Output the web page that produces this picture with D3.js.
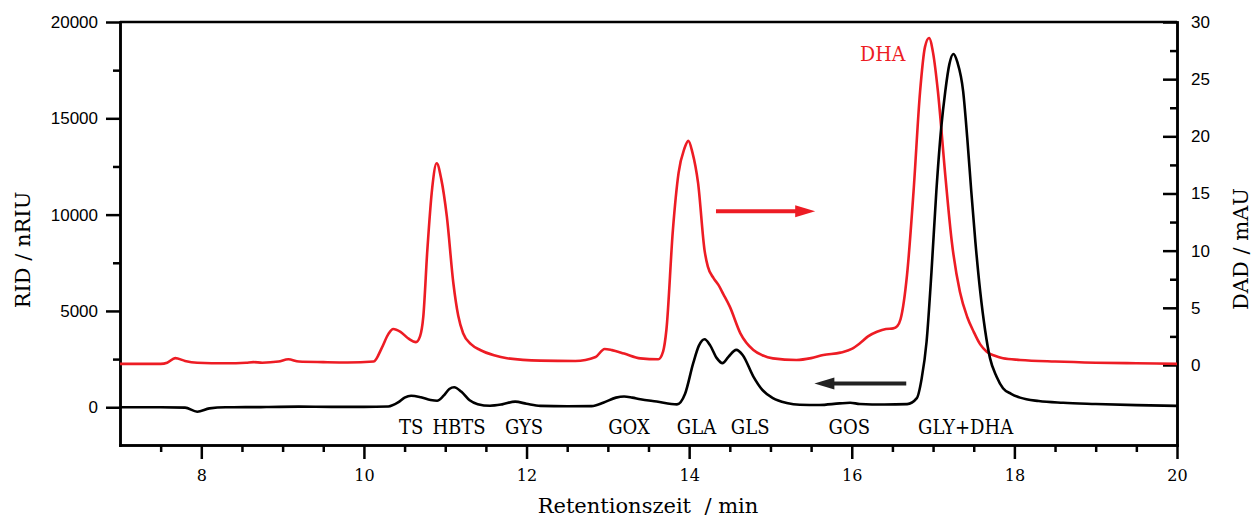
<!DOCTYPE html>
<html>
<head>
<meta charset="utf-8">
<script src="https://cdn.jsdelivr.net/npm/d3@7"></script>
<style>
  body { margin: 0; background: #fff; }
  svg { display: block; }
  .sans text { font-family: "Liberation Sans", Arial, sans-serif; font-size: 17px; fill: #000; }
  .serif text { font-family: "DejaVu Serif", serif; font-size: 16px; fill: #000; }
  .axis path, .axis line { stroke: #000; stroke-width: 2.5px; }
  .lbl { font-family: "DejaVu Serif Condensed", "DejaVu Serif", serif; font-stretch: condensed; font-size: 20px; fill: #000; }
  .title { font-family: "DejaVu Serif", serif; font-size: 21px; fill: #000; white-space: pre; }
</style>
</head>
<body>
<svg id="chart" width="1254" height="518"></svg>
<script>
// ---------- data ----------
// RID signal (left axis, nRIU) vs retention time (min)
const ridTimes = [7.0, 7.5, 7.8, 7.95, 8.1, 8.3, 8.8, 9.2, 9.6, 10.0, 10.3, 10.42, 10.5, 10.58, 10.7, 10.82, 10.9, 10.98, 11.05, 11.11, 11.2, 11.3, 11.4, 11.55, 11.7, 11.86, 12.0, 12.17, 12.5, 12.8, 12.95, 13.1, 13.2, 13.3, 13.4, 13.6, 13.85, 13.95, 14.05, 14.12, 14.19, 14.26, 14.34, 14.41, 14.48, 14.58, 14.66, 14.79, 14.9, 15.03, 15.2, 15.36, 15.6, 15.85, 15.98, 16.1, 16.4, 16.68, 16.8, 16.86, 16.92, 16.98, 17.04, 17.1, 17.15, 17.2, 17.25, 17.3, 17.37, 17.42, 17.47, 17.52, 17.58, 17.64, 17.7, 17.78, 17.86, 17.96, 18.07, 18.3, 18.6, 19.0, 19.5, 20.0];
const ridValues = [0, 0, -20, -230, -60, 0, 10, 30, 20, 20, 40, 250, 500, 600, 520, 380, 340, 600, 950, 1040, 800, 360, 160, 80, 150, 290, 180, 70, 50, 60, 250, 500, 560, 500, 415, 300, 150, 700, 2290, 3200, 3530, 3200, 2550, 2290, 2600, 2980, 2700, 1590, 900, 470, 220, 130, 120, 200, 230, 170, 140, 160, 470, 1500, 3400, 7000, 11200, 14500, 16400, 17800, 18340, 17900, 16400, 14000, 11200, 8600, 6000, 4000, 2550, 1600, 990, 700, 500, 320, 230, 170, 110, 70];

// DAD signal (right axis, mAU) vs retention time (min)
const dadTimes = [7.0, 7.5, 7.58, 7.68, 7.8, 7.95, 8.3, 8.55, 8.64, 8.75, 8.95, 9.07, 9.2, 9.5, 9.8, 10.12, 10.22, 10.3, 10.36, 10.45, 10.55, 10.64, 10.69, 10.73, 10.78, 10.84, 10.895, 10.95, 11.02, 11.1, 11.16, 11.22, 11.32, 11.43, 11.6, 11.76, 12.17, 12.6, 12.85, 12.96, 13.05, 13.2, 13.4, 13.62, 13.68, 13.72, 13.8, 13.87, 13.94, 13.99, 14.04, 14.11, 14.19, 14.23, 14.3, 14.36, 14.42, 14.5, 14.63, 14.79, 14.9, 15.03, 15.32, 15.5, 15.65, 15.86, 16.0, 16.1, 16.2, 16.31, 16.42, 16.51, 16.56, 16.6, 16.68, 16.76, 16.84, 16.9, 16.95, 17.0, 17.06, 17.15, 17.23, 17.33, 17.42, 17.5, 17.58, 17.66, 17.76, 17.86, 18.07, 18.5, 19.0, 19.5, 20.0];
const dadValues = [0.1, 0.1, 0.2, 0.6, 0.35, 0.2, 0.15, 0.2, 0.25, 0.2, 0.3, 0.5, 0.3, 0.25, 0.22, 0.3, 1.5, 2.7, 3.15, 2.9, 2.3, 2.0, 2.5, 4.2, 10.06, 15.5, 17.65, 16.3, 12.97, 7.15, 4.3, 2.77, 1.8, 1.31, 0.85, 0.59, 0.38, 0.35, 0.7, 1.4, 1.3, 1.0, 0.58, 0.5, 1.2, 3.06, 11.8, 16.8, 18.9, 19.6, 18.6, 15.9, 10.0, 8.6, 7.6, 7.0, 6.2, 5.1, 2.77, 1.31, 0.85, 0.58, 0.44, 0.6, 0.87, 1.08, 1.4, 1.9, 2.5, 2.9, 3.15, 3.2, 3.4, 4.0, 7.9, 15.2, 23.9, 27.8, 28.6, 27.3, 23.9, 16.6, 10.8, 6.4, 4.2, 2.9, 1.8, 1.16, 0.8, 0.58, 0.44, 0.3, 0.2, 0.15, 0.1];

// Peak labels (positioned at retention time)
const peakNames = ["TS", "HBTS", "GYS", "GOX", "GLA", "GLS", "GOS", "GLY+DHA"];
const peakTimes = [10.58, 11.17, 11.97, 13.26, 14.09, 14.75, 15.97, 17.40];
const dhaLabel = { text: "DHA", time: 16.38, mAU: 26.6 };

// Axis arrows: [startTime, endTime, value]
const redArrow = [14.33, 15.55, 13.45];   // points to right axis (mAU)
const blackArrow = [16.67, 15.54, 1230];  // points to left axis (nRIU)

// Ticks
const xMajorTicks = [8, 10, 12, 14, 16, 18, 20];
const xMinorTicks = [7.5, 8.5, 9, 9.5, 10.5, 11, 11.5, 12.5, 13, 13.5, 14.5, 15, 15.5, 16.5, 17, 17.5, 18.5, 19, 19.5];
const leftMajorTicks = [0, 5000, 10000, 15000, 20000];
const leftMinorTicks = [2500, 7500, 12500, 17500];
const rightMajorTicks = [0, 5, 10, 15, 20, 25, 30];
const rightMinorTicks = [2.5, 7.5, 12.5, 17.5, 22.5, 27.5];

// ---------- layout ----------
const svg = d3.select("#chart");
const L = 120, R = 1177, T = 22, B = 445;
const red = "#ed1c24";

const x = d3.scaleLinear().domain([7, 20]).range([L, R]);
const yL = d3.scaleLinear().domain([-1960, 20000]).range([B, T]);
const yR = d3.scaleLinear().domain([-7, 30]).range([B, T]);

// top border
svg.append("line").attr("x1", L).attr("x2", R).attr("y1", T).attr("y2", T)
  .attr("stroke", "#000").attr("stroke-width", 2.5);

// Bottom axis
svg.append("g").attr("class", "axis serif").attr("transform", `translate(0,${B})`)
  .call(d3.axisBottom(x).tickValues(xMajorTicks).tickSize(14).tickSizeOuter(0).tickPadding(11).tickFormat(d3.format("d")));
svg.append("g").attr("class", "axis").attr("transform", `translate(0,${B})`)
  .call(d3.axisBottom(x).tickValues(xMinorTicks).tickSize(7).tickSizeOuter(0).tickFormat(""));

// Left axis
svg.append("g").attr("class", "axis sans").attr("transform", `translate(${L},0)`)
  .call(d3.axisLeft(yL).tickValues(leftMajorTicks).tickSize(14).tickSizeOuter(0).tickPadding(8).tickFormat(d3.format("d")));
svg.append("g").attr("class", "axis").attr("transform", `translate(${L},0)`)
  .call(d3.axisLeft(yL).tickValues(leftMinorTicks).tickSize(7).tickSizeOuter(0).tickFormat(""));

// Right axis (ticks inward)
svg.append("g").attr("class", "axis sans").attr("transform", `translate(${R},0)`)
  .call(d3.axisRight(yR).tickValues(rightMajorTicks).tickSize(-14).tickSizeOuter(0).tickPadding(14).tickFormat(d3.format("d")));
svg.append("g").attr("class", "axis").attr("transform", `translate(${R},0)`)
  .call(d3.axisRight(yR).tickValues(rightMinorTicks).tickSize(-7).tickSizeOuter(0).tickFormat(""));

svg.selectAll(".axis .domain").attr("stroke-linecap", "square");

// Curves
const ridData = ridTimes.map((t, i) => [t, ridValues[i]]);
const dadData = dadTimes.map((t, i) => [t, dadValues[i]]);

svg.append("path").datum(dadData)
  .attr("fill", "none").attr("stroke", red).attr("stroke-width", 2.6).attr("stroke-linejoin", "round")
  .attr("d", d3.line().x(d => x(d[0])).y(d => yR(d[1])).curve(d3.curveMonotoneX));

svg.append("path").datum(ridData)
  .attr("fill", "none").attr("stroke", "#000").attr("stroke-width", 2.6).attr("stroke-linejoin", "round")
  .attr("d", d3.line().x(d => x(d[0])).y(d => yL(d[1])).curve(d3.curveMonotoneX));

// Arrows
function arrow(x1, x2, y, color) {
  const dir = Math.sign(x2 - x1);
  const headLen = 20, half = 6;
  svg.append("line").attr("x1", x1).attr("x2", x2 - dir * headLen + dir * 2).attr("y1", y).attr("y2", y)
    .attr("stroke", color).attr("stroke-width", 4);
  svg.append("path")
    .attr("d", `M${x2},${y} L${x2 - dir * headLen},${y - half} L${x2 - dir * headLen},${y + half} Z`)
    .attr("fill", color);
}
arrow(x(redArrow[0]), x(redArrow[1]), yR(redArrow[2]), red);
arrow(x(blackArrow[0]), x(blackArrow[1]), yL(blackArrow[2]), "#222");

// Peak labels
svg.append("g").selectAll("text").data(peakNames).join("text")
  .attr("class", "lbl").attr("text-anchor", "middle")
  .attr("x", (d, i) => x(peakTimes[i])).attr("y", 434)
  .text(d => d);

svg.append("text").attr("class", "lbl").attr("text-anchor", "middle")
  .attr("x", x(dhaLabel.time)).attr("y", yR(dhaLabel.mAU))
  .style("fill", red).style("font-size", "21px").text(dhaLabel.text);

// Axis titles
svg.append("text").attr("class", "title").attr("text-anchor", "middle")
  .attr("x", 648).attr("y", 513).text("Retentionszeit  / min");
svg.append("text").attr("class", "title").attr("text-anchor", "middle")
  .attr("transform", "translate(30,250) rotate(-90)").text("RID / nRIU");
svg.append("text").attr("class", "title").attr("text-anchor", "middle")
  .attr("transform", "translate(1248,249) rotate(-90)").text("DAD / mAU");
</script>
</body>
</html>
